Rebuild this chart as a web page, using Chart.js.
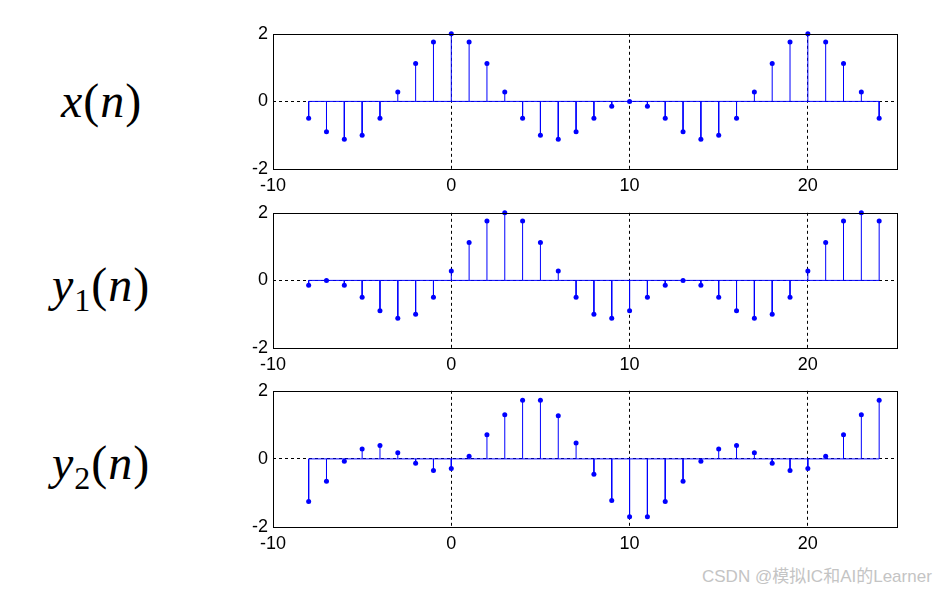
<!DOCTYPE html>
<html>
<head>
<meta charset="utf-8">
<script src="https://cdn.jsdelivr.net/npm/chart.js@4.4.1/dist/chart.umd.min.js"></script>
<style>
  html, body { margin: 0; padding: 0; background: #fff; }
  body { width: 934px; height: 590px; position: relative; overflow: hidden; }
  .panel { position: absolute; left: 213px; width: 692px; height: 181px; }
  .sig { position: absolute; font-family: "Liberation Serif", "Times New Roman", serif; font-size: 48px; color: #000; white-space: nowrap; line-height: 1; letter-spacing: 1px; }
  .sig i { font-style: italic; }
  .sig sub { font-size: 32px; vertical-align: -10px; line-height: 0; }
  .mark { position: absolute; left: 702px; top: 562px; font-family: "Liberation Sans", "Noto Sans CJK SC", sans-serif; font-size: 17px; color: #c4c4c4; white-space: nowrap; }
</style>
</head>
<body>
<div class="sig" style="left:61px; top:77px;"><i>x</i>(<i>n</i>)</div>
<div class="sig" style="left:52px; top:261px;"><i>y</i><sub>1</sub>(<i>n</i>)</div>
<div class="sig" style="left:52px; top:439px;"><i>y</i><sub>2</sub>(<i>n</i>)</div>

<div class="panel" style="top:18px;"><canvas id="chart-x"></canvas></div>
<div class="panel" style="top:197px;"><canvas id="chart-y1"></canvas></div>
<div class="panel" style="top:375px; height:182px;"><canvas id="chart-y2"></canvas></div>

<div class="mark">CSDN @模拟IC和AI的Learner</div>

<script>
// sample index
const n = [-8, -7, -6, -5, -4, -3, -2, -1, 0, 1, 2, 3, 4, 5, 6, 7, 8, 9, 10, 11, 12, 13, 14, 15, 16, 17, 18, 19, 20, 21, 22, 23, 24];

// x(n)
const xValues = [-0.5, -0.9, -1.12, -1.0, -0.5, 0.28, 1.12, 1.76, 2.0, 1.76, 1.12, 0.28, -0.5, -1.0, -1.12, -0.9, -0.5,
  -0.14, 0.0, -0.14, -0.5, -0.9, -1.12, -1.0, -0.5, 0.28, 1.12, 1.76, 2.0, 1.76, 1.12, 0.28, -0.5];

// y1(n)
const y1Values = [-0.14, 0.0, -0.14, -0.5, -0.9, -1.12, -1.0, -0.5, 0.28, 1.12, 1.76, 2.0, 1.76, 1.12, 0.28, -0.5, -1.0,
  -1.12, -0.9, -0.5, -0.14, 0.0, -0.14, -0.5, -0.9, -1.12, -1.0, -0.5, 0.28, 1.12, 1.76, 2.0, 1.76];

// y2(n)
const y2Values = [-1.25, -0.66, -0.07, 0.29, 0.39, 0.18, -0.13, -0.34, -0.28, 0.08, 0.71, 1.3, 1.72, 1.72, 1.27, 0.47, -0.45,
  -1.22, -1.7, -1.7, -1.25, -0.66, -0.07, 0.29, 0.39, 0.18, -0.13, -0.34, -0.28, 0.08, 0.71, 1.3, 1.72];

const xTicks = [-10, 0, 10, 20];
const yTicks = [-2, 0, 2];
const xMin = -10;
const xMax = 25;
const yMin = -2;
const yMax = 2;

const STEM_COLOR = '#0000ff';
const TICK_FONT = { family: '"Liberation Sans", Arial, sans-serif', size: 18 };

// matlab style box around the axes
const boxPlugin = {
  id: 'box',
  afterDraw(chart) {
    const { ctx, chartArea: a } = chart;
    ctx.save();
    ctx.strokeStyle = '#000';
    ctx.lineWidth = 1;
    ctx.setLineDash([]);
    ctx.strokeRect(Math.round(a.left) + 0.5, Math.round(a.top) + 0.5,
      Math.round(a.right - a.left), Math.round(a.bottom - a.top));
    ctx.restore();
  }
};

// no dashed grid line where the box already is
function gridColor(min, max) {
  return (ctx) => {
    const v = ctx.tick ? ctx.tick.value : null;
    return (v === min || v === max) ? 'rgba(0,0,0,0)' : '#000';
  };
}

function stemPoints(values) {
  const pts = [];
  values.forEach((v, i) => {
    pts.push({ x: n[i], y: 0 });
    pts.push({ x: n[i], y: v });
    pts.push({ x: n[i], y: null });
  });
  return pts;
}

function makeStemChart(canvasId, values) {
  const config = {
    type: 'line',
    data: {
      datasets: [
        {
          // baseline
          data: [{ x: n[0], y: 0 }, { x: n[n.length - 1], y: 0 }],
          borderColor: STEM_COLOR,
          borderWidth: 1,
          pointRadius: 0,
        },
        {
          // stems
          data: stemPoints(values),
          borderColor: STEM_COLOR,
          borderWidth: 1,
          pointRadius: 0,
          spanGaps: false,
        },
        {
          // markers
          data: values.map((v, i) => ({ x: n[i], y: v })),
          showLine: false,
          clip: false,
          pointRadius: 2.5,
          pointStyle: 'circle',
          pointBackgroundColor: STEM_COLOR,
          pointBorderColor: STEM_COLOR,
          pointBorderWidth: 0,
        },
      ]
    },
    options: {
      animation: false,
      responsive: true,
      maintainAspectRatio: false,
      layout: { padding: { top: 0, right: 8, left: 0, bottom: 0 } },
      plugins: {
        legend: { display: false },
        tooltip: { enabled: false },
      },
      scales: {
        x: {
          type: 'linear',
          min: xMin,
          max: xMax,
          afterBuildTicks: (scale) => { scale.ticks = xTicks.map(v => ({ value: v })); },
          afterFit: (scale) => { scale.height = 30; },
          grid: { color: gridColor(xMin, xMax), lineWidth: 1, drawTicks: false },
          border: { display: false, dash: [3, 3] },
          ticks: { color: '#000', font: TICK_FONT, padding: 6, maxRotation: 0 },
        },
        y: {
          type: 'linear',
          min: yMin,
          max: yMax,
          afterBuildTicks: (scale) => { scale.ticks = yTicks.map(v => ({ value: v })); },
          afterFit: (scale) => { scale.width = 60; },
          grid: { color: gridColor(yMin, yMax), lineWidth: 1, drawTicks: false },
          border: { display: false, dash: [3, 3] },
          ticks: { color: '#000', font: TICK_FONT, padding: 5 },
        }
      }
    },
    plugins: [boxPlugin],
  };
  return new Chart(document.getElementById(canvasId), config);
}

makeStemChart('chart-x', xValues);
makeStemChart('chart-y1', y1Values);
makeStemChart('chart-y2', y2Values);
</script>
</body>
</html>
